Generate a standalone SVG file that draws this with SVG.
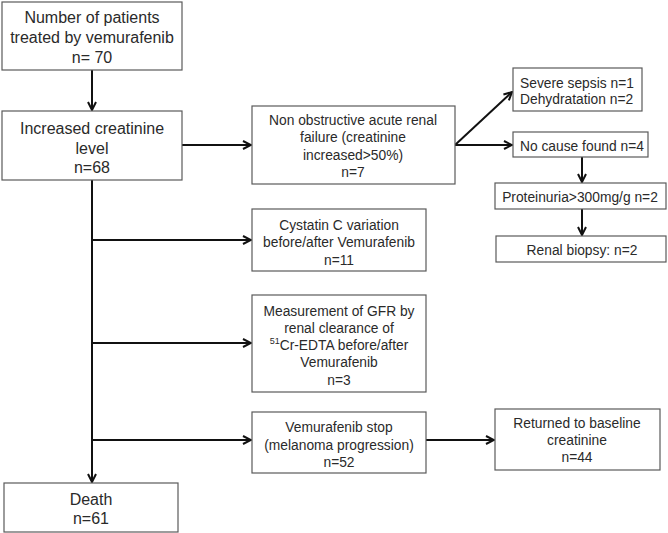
<svg xmlns="http://www.w3.org/2000/svg" width="668" height="533" viewBox="0 0 668 533">
<style>
.box{fill:#fff;stroke:#5a5a5a;stroke-width:1.2}
.t{font-family:"Liberation Sans",Arial,sans-serif;fill:#2a2a2a;text-anchor:middle;dominant-baseline:central}
.big{font-size:16px}
.sm{font-size:13.8px}
.l{text-anchor:start}
.c{fill:none;stroke:#111;stroke-width:2}
</style>
<defs>
<marker id="ah" viewBox="0 0 10 10" refX="9" refY="5" markerWidth="10" markerHeight="10" markerUnits="userSpaceOnUse" orient="auto">
<path d="M1,1 L9,5 L1,9" fill="none" stroke="#111" stroke-width="2"/>
</marker>
</defs>
<rect width="668" height="533" fill="#fff"/>
<g id="connectors">
<line class="c" x1="92" y1="70" x2="92" y2="110" marker-end="url(#ah)"/>
<line class="c" x1="182" y1="145" x2="251" y2="145" marker-end="url(#ah)"/>
<line class="c" x1="92" y1="180" x2="92" y2="482" marker-end="url(#ah)"/>
<line class="c" x1="92" y1="240" x2="251" y2="240" marker-end="url(#ah)"/>
<line class="c" x1="92" y1="343" x2="251" y2="343" marker-end="url(#ah)"/>
<line class="c" x1="92" y1="440" x2="251" y2="440" marker-end="url(#ah)"/>
<line class="c" x1="426" y1="440" x2="494" y2="440" marker-end="url(#ah)"/>
<line class="c" x1="455" y1="145" x2="512" y2="92" marker-end="url(#ah)"/>
<line class="c" x1="455" y1="145" x2="512" y2="145" marker-end="url(#ah)"/>
<line class="c" x1="582" y1="157" x2="582" y2="182" marker-end="url(#ah)"/>
<line class="c" x1="582" y1="209" x2="582" y2="235" marker-end="url(#ah)"/>
</g>
<g id="n-patients">
<rect class="box" x="2" y="2" width="180" height="68"/>
<text class="t big" x="92" y="17">Number of patients</text>
<text class="t big" x="92" y="37">treated by vemurafenib</text>
<text class="t big" x="92" y="57">n= 70</text>
</g>
<g id="n-increased">
<rect class="box" x="2" y="111" width="180" height="69"/>
<text class="t big" x="92" y="128">Increased creatinine</text>
<text class="t big" x="92" y="148">level</text>
<text class="t big" x="92" y="167">n=68</text>
</g>
<g id="n-arf">
<rect class="box" x="252" y="106" width="203" height="78"/>
<text class="t sm" x="353" y="120">Non obstructive acute renal</text>
<text class="t sm" x="353" y="137">failure (creatinine</text>
<text class="t sm" x="353" y="155">increased&gt;50%)</text>
<text class="t sm" x="353" y="172">n=7</text>
</g>
<g id="n-sepsis">
<rect class="box" x="513" y="68" width="129" height="43"/>
<text class="t sm l" x="520" y="83">Severe sepsis n=1</text>
<text class="t sm l" x="520" y="99">Dehydratation n=2</text>
</g>
<g id="n-nocause">
<rect class="box" x="513" y="132" width="135" height="25"/>
<text class="t sm l" x="520" y="146">No cause found n=4</text>
</g>
<g id="n-proteinuria">
<rect class="box" x="495" y="183" width="171" height="26"/>
<text class="t sm" x="580" y="197">Proteinuria&gt;300mg/g n=2</text>
</g>
<g id="n-biopsy">
<rect class="box" x="496" y="236" width="170" height="26"/>
<text class="t sm" x="582" y="250">Renal biopsy: n=2</text>
</g>
<g id="n-cystatin">
<rect class="box" x="252" y="209" width="174" height="62"/>
<text class="t sm" x="339" y="225">Cystatin C variation</text>
<text class="t sm" x="339" y="242">before/after Vemurafenib</text>
<text class="t sm" x="339" y="260">n=11</text>
</g>
<g id="n-gfr">
<rect class="box" x="252" y="295" width="174" height="97"/>
<text class="t sm" x="339" y="311">Measurement of GFR by</text>
<text class="t sm" x="339" y="328">renal clearance of</text>
<text class="t sm" x="339" y="345"><tspan font-size="9" dy="-4">51</tspan><tspan dy="4">Cr-EDTA before/after</tspan></text>
<text class="t sm" x="339" y="362">Vemurafenib</text>
<text class="t sm" x="339" y="380">n=3</text>
</g>
<g id="n-stop">
<rect class="box" x="252" y="412" width="174" height="61"/>
<text class="t sm" x="339" y="427">Vemurafenib stop</text>
<text class="t sm" x="339" y="445">(melanoma progression)</text>
<text class="t sm" x="339" y="462">n=52</text>
</g>
<g id="n-returned">
<rect class="box" x="495" y="409" width="165" height="61"/>
<text class="t sm" x="577" y="423">Returned to baseline</text>
<text class="t sm" x="577" y="440">creatinine</text>
<text class="t sm" x="577" y="457">n=44</text>
</g>
<g id="n-death">
<rect class="box" x="4" y="483" width="174" height="49"/>
<text class="t big" x="91" y="499">Death</text>
<text class="t big" x="91" y="518">n=61</text>
</g>
</svg>
